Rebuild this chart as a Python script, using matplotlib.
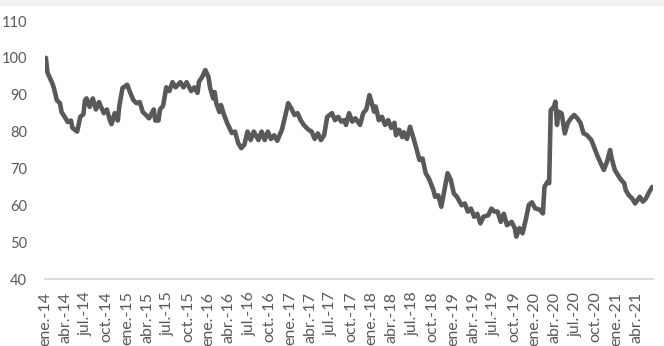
import matplotlib
matplotlib.use("Agg")
import matplotlib.pyplot as plt
from matplotlib.patches import Rectangle
import pandas as pd

# semanas desde el 3 de enero de 2014 y valor del indice
semana_a = [0, 1, 4, 5, 7, 9, 10, 12, 14, 16, 17, 20, 22, 24, 25, 26, 28, 30, 32, 34,
            37, 39, 41, 42, 44, 46, 47, 49, 52, 54, 56, 58, 60, 62, 64, 66, 69, 70, 72, 73,
            75, 77, 79, 81, 83, 86, 88, 90, 93, 95, 97]
valor_a = [100, 96, 93.2, 92, 88.5, 87.7, 85.3, 84, 82.6, 83, 81, 80, 84, 84.7, 88.5, 89, 86.7, 89, 86, 88,
           85, 86, 83, 82, 85, 83, 87, 91.8, 92.7, 90.5, 88.5, 87.7, 88, 85.3, 84.5, 83.6, 86, 83, 83, 86,
           87, 92, 91, 93.4, 92, 93.4, 92, 93.4, 91, 92, 90.5]

semana_b = [98, 100, 102, 104, 105, 107, 108, 109, 111, 112, 114, 116, 119, 121, 123, 125, 127, 129, 131, 133,
            136, 138, 140, 142, 144, 146, 148, 151, 153, 155, 157, 159, 161, 163, 165, 168, 170, 172, 174, 176,
            178, 180, 183, 185, 187, 189, 191, 192, 194, 196]
valor_b = [93.6, 94.8, 96.7, 94.8, 92, 89, 90.7, 87.7, 85.3, 87.2, 84.5, 82.3, 79.6, 80, 76.9, 75.5, 76.5, 80, 77.7, 80,
           77.7, 80, 77.7, 80, 78, 79, 77.5, 80.5, 84, 87.7, 86.3, 84.5, 85, 83.1, 81.8, 80.5, 80, 78, 79.5, 77.7,
           79, 84, 85, 83.1, 84, 82.7, 83.1, 81.8, 85, 82.7]

semana_c = [198, 201, 203, 205, 207, 208, 210, 211, 213, 215, 217, 219, 221, 223, 224, 226, 228, 229, 231, 233,
            235, 237, 239, 241, 243, 245, 248, 249, 251, 253, 255, 257, 259, 261, 263, 266, 268, 270, 272, 274,
            276, 278, 280, 283, 285, 287, 289, 291, 293, 295]
valor_c = [83.6, 81.8, 85, 86, 89.9, 88.5, 85.4, 86.8, 83.1, 84, 81.8, 83.1, 81, 82.4, 79, 80.5, 78.5, 79.8, 78, 81.3,
           78.5, 75.5, 72.3, 72.7, 68.7, 67.3, 64.1, 62.3, 62.7, 59.6, 64.1, 68.7, 67, 63.2, 62.3, 60, 60.5, 58.3, 59.1, 56.9,
           57.7, 55.1, 56.9, 57.3, 59.1, 58.3, 58.3, 55.5, 57.7, 54.6]

semana_d = [298, 300, 301, 303, 305, 307, 309, 311, 313, 316, 318, 319, 321, 322, 323, 325, 326, 327, 328, 330,
            332, 334, 336, 338, 340, 342, 344, 346, 349, 351, 353, 355, 357, 359, 361, 362, 364, 366, 368, 370,
            371, 373, 375, 377, 380, 382, 384, 386, 388]
valor_d = [55.5, 53.8, 51.5, 53.8, 52.4, 56, 60.1, 60.8, 59.2, 58.8, 57.8, 65, 66.4, 66, 85.8, 86.7, 88.1, 81.8, 85.4, 84.9,
           79.5, 82.4, 83.6, 84.5, 83.6, 82.4, 79.5, 79.1, 77.7, 75.5, 73.3, 71.4, 69.6, 71.8, 75, 72.7, 69.6, 68.2, 66.9, 66,
           64.1, 62.7, 61.9, 60.5, 62.3, 61, 61.9, 63.6, 65]

meses = ['ene.', 'abr.', 'jul.', 'oct.']
yticks = [40, 50, 60, 70, 80, 90, 100, 110]

semanas = semana_a + semana_b + semana_c + semana_d
valores = valor_a + valor_b + valor_c + valor_d
fechas = pd.Timestamp('2014-01-03') + pd.to_timedelta([7 * s for s in semanas], unit='D')

gris = '#595959'
plt.rcParams['font.family'] = ['Lato', 'DejaVu Sans']

fig = plt.figure(figsize=(6.64, 3.46), dpi=100)
fig.patches.append(Rectangle((0, 0.985), 1, 0.015, transform=fig.transFigure,
                             color='#f2f2f2', zorder=0))
ax = fig.add_axes([0.0678, 0.1936, 0.9156, 0.7457])

ax.plot(fechas, valores, color=gris, lw=3.3, solid_joinstyle='round', solid_capstyle='round')

ax.set_ylim(40, 110)
ax.set_yticks(yticks)
ax.set_xlim(fechas[0] - pd.Timedelta(days=4), fechas[-1] + pd.Timedelta(days=3))

ticks = pd.date_range('2014-01-01', '2021-04-01', freq='QS')
ax.set_xticks(ticks)
ax.set_xticklabels([f"{meses[(t.month - 1) // 3]}-{t.strftime('%y')}" for t in ticks],
                   rotation=90, va='top', ha='center')

for s in ['top', 'right', 'left']:
    ax.spines[s].set_visible(False)
ax.spines['bottom'].set_color('#d9d9d9')
ax.spines['bottom'].set_linewidth(1.3)
ax.tick_params(axis='y', length=0, pad=13, labelsize=10.5, labelcolor=gris)
ax.tick_params(axis='x', length=0, pad=9, labelsize=11.5, labelcolor=gris)

fig.savefig('out.png', dpi=100)
